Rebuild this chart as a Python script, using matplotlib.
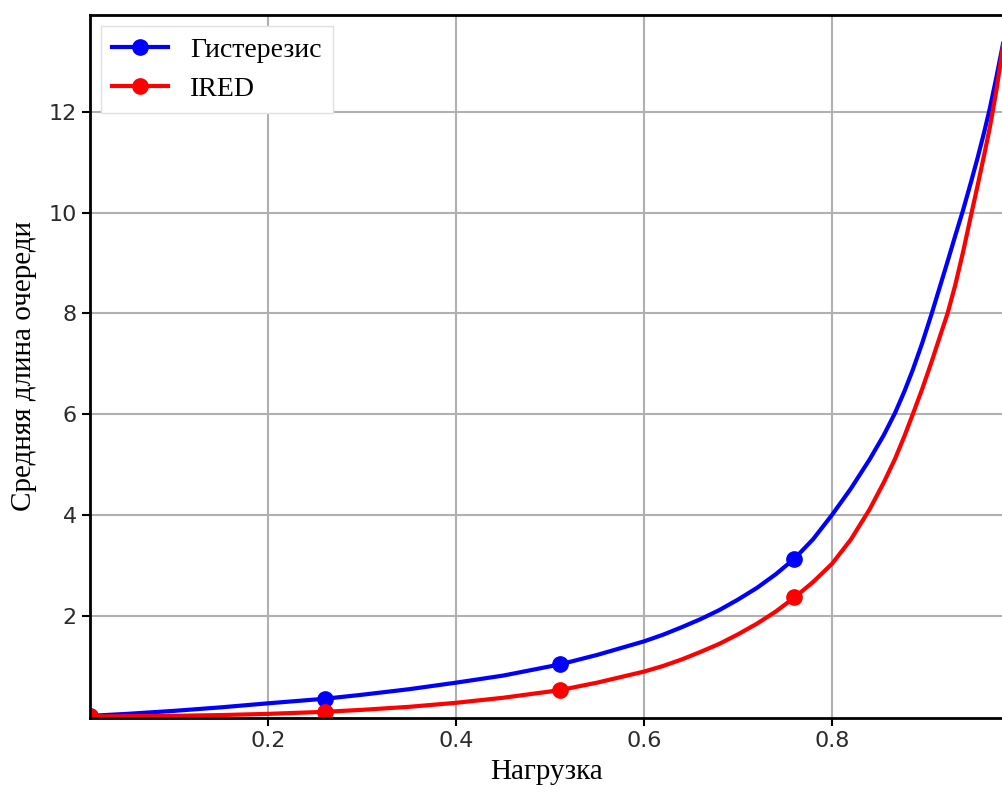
import matplotlib
matplotlib.use("Agg")
import matplotlib.pyplot as plt

# load values
load = [0.01, 0.05, 0.10, 0.15, 0.20, 0.26, 0.30, 0.35, 0.40, 0.45,
        0.51, 0.55, 0.60, 0.62, 0.64, 0.66, 0.68, 0.70, 0.72, 0.74,
        0.76, 0.78, 0.80, 0.82, 0.84, 0.855, 0.867, 0.877, 0.886, 0.896,
        0.906, 0.915, 0.923, 0.931, 0.9395, 0.948, 0.955, 0.962, 0.968, 0.975,
        0.982]

hysteresis = [0.01, 0.05, 0.11, 0.18, 0.26, 0.35, 0.43, 0.54, 0.67, 0.81,
              1.03, 1.22, 1.49, 1.62, 1.77, 1.93, 2.11, 2.32, 2.55, 2.82,
              3.13, 3.52, 4.00, 4.52, 5.10, 5.58, 6.02, 6.45, 6.88, 7.41,
              7.99, 8.54, 9.03, 9.53, 10.05, 10.61, 11.09, 11.60, 12.07, 12.69,
              13.35]

ired = [0.00, 0.003, 0.011, 0.026, 0.05, 0.09, 0.13, 0.19, 0.27, 0.37,
        0.52, 0.67, 0.89, 1.00, 1.13, 1.28, 1.44, 1.63, 1.84, 2.08,
        2.36, 2.67, 3.03, 3.51, 4.11, 4.64, 5.11, 5.56, 6.00, 6.50,
        7.04, 7.55, 8.00, 8.55, 9.22, 9.95, 10.54, 11.15, 11.69, 12.43,
        13.30]

marker_idx = [0, 5, 10, 20]

fig = plt.figure(figsize=(10.03, 7.95), dpi=100)
ax = fig.add_axes([0.0897, 0.097, 0.9103, 0.884])

ax.plot(load, hysteresis, color='blue', linewidth=3, marker='o', markersize=11,
        markevery=marker_idx, label='Гистерезис')
ax.plot(load, ired, color='red', linewidth=3, marker='o', markersize=11,
        markevery=marker_idx, label='IRED')

ax.set_xlim(0.01, 0.982)
ax.set_ylim(-0.03, 13.92)
ax.set_xticks([0.2, 0.4, 0.6, 0.8])
ax.set_yticks([2, 4, 6, 8, 10, 12])
ax.tick_params(labelsize=16, labelcolor='#2b2b2b', length=6, width=1.5)
ax.grid(True, color='#b0b0b0', linewidth=1.5)

for side in ['left', 'top', 'bottom']:
    ax.spines[side].set_linewidth(2)
ax.spines['right'].set_visible(False)

ax.set_xlabel('Нагрузка', family='Liberation Serif', fontsize=21, labelpad=6)
ax.set_ylabel('Средняя длина очереди', family='Liberation Serif', fontsize=21, labelpad=8)

leg = ax.legend(loc='upper left', prop={'family': 'Liberation Serif', 'size': 20},
                fancybox=False, framealpha=1, borderaxespad=0.4)
leg.get_frame().set_edgecolor('#e0e0e0')

fig.savefig('out.png', dpi=100)
